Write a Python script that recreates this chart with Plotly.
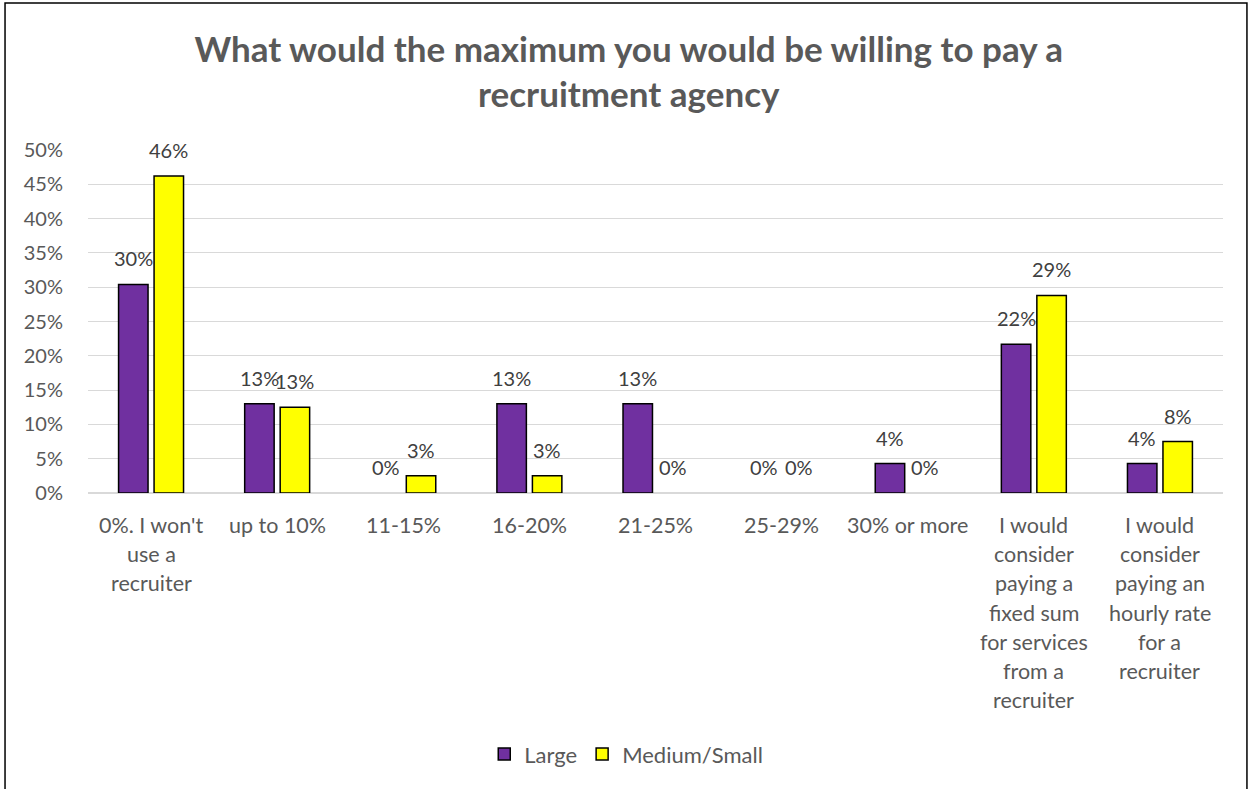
import math
import plotly.graph_objects as go

# Survey answers (x categories) and the share of respondents per company size, in %
categories = [
    "0%. I won't use a recruiter",
    "up to 10%",
    "11-15%",
    "16-20%",
    "21-25%",
    "25-29%",
    "30% or more",
    "I would consider paying a fixed sum for services from a recruiter",
    "I would consider paying an hourly rate for a recruiter",
]
category_lines = [
    ["0%. I won't", "use a", "recruiter"],
    ["up to 10%"],
    ["11-15%"],
    ["16-20%"],
    ["21-25%"],
    ["25-29%"],
    ["30% or more"],
    ["I would", "consider", "paying a", "fixed sum", "for services", "from a", "recruiter"],
    ["I would", "consider", "paying an", "hourly rate", "for a", "recruiter"],
]
large = [30.4, 13.0, 0.0, 13.0, 13.0, 0.0, 4.3, 21.7, 4.3]
medium_small = [46.2, 12.5, 2.5, 2.5, 0.0, 0.0, 0.0, 28.8, 7.5]
y_ticks = [0, 5, 10, 15, 20, 25, 30, 35, 40, 45, 50]
y_tick_labels = [f"{t}%" for t in y_ticks]

FONT = "Lato"
GREY = "#595959"
LABEL = "#404040"
BARGAP = 0.437


def pct(v):
    # round half up, the way the value labels show it
    return f"{int(math.floor(v + 0.5))}%"


fig = go.Figure()
series = [("Large", large, "#7030A0"), ("Medium/Small", medium_small, "#FFFF00")]
for name, vals, color in series:
    fig.add_trace(go.Bar(
        name=name,
        x=categories,
        y=vals,
        marker=dict(
            color=color,
            # empty bars get no outline
            line=dict(color="#000000", width=[1.5 if v > 0 else 0 for v in vals]),
        ),
        hoverinfo="x+y",
    ))

# value labels above each bar, centred on the bar inside its group
half_slot = (1 - BARGAP) / 4
annotations = []
for k, (name, vals, color) in enumerate(series):
    dx = -half_slot if k == 0 else half_slot
    for i, v in enumerate(vals):
        annotations.append(dict(
            x=i + dx, y=v, xref="x", yref="y",
            text=pct(v), showarrow=False,
            yanchor="bottom", yshift=12,
            font=dict(family=FONT, size=20, color=LABEL),
        ))

# wrapped category labels under the axis
for i, lines in enumerate(category_lines):
    for j, line in enumerate(lines):
        annotations.append(dict(
            x=i, y=0, xref="x", yref="paper",
            text=line, showarrow=False,
            yanchor="middle", yshift=-(32 + 29.2 * j),
            font=dict(family=FONT, size=21.5, color=GREY),
        ))

fig.update_layout(
    width=1250,
    height=789,
    margin=dict(l=88, r=27, t=150, b=296),
    paper_bgcolor="white",
    plot_bgcolor="white",
    barmode="group",
    bargap=BARGAP,
    bargroupgap=0.17,
    title=dict(
        text="What would the maximum you would be willing to pay a<br>recruitment agency",
        x=0.503, xanchor="center", xref="container",
        y=0.922, yanchor="middle", yref="container",
        font=dict(family=FONT, size=35, color=GREY, weight="bold"),
    ),
    font=dict(family=FONT, color=GREY),
    xaxis=dict(
        type="category",
        showticklabels=False,
        showgrid=False,
        showline=False,
        zeroline=False,
        ticks="",
    ),
    yaxis=dict(
        range=[0, 50],
        tickmode="array",
        tickvals=y_ticks,
        ticktext=y_tick_labels,
        showgrid=True,
        gridcolor="#D9D9D9",
        gridwidth=1,
        zeroline=True,
        zerolinecolor="#D9D9D9",
        zerolinewidth=1.5,
        showline=False,
        ticks="",
        ticklabelstandoff=24,
        tickfont=dict(family=FONT, size=20, color=GREY),
    ),
    legend=dict(
        orientation="h",
        x=0.501, xanchor="center", xref="container",
        y=0.044, yanchor="middle", yref="container",
        font=dict(family=FONT, size=22, color=GREY),
        itemwidth=30,
        traceorder="normal",
    ),
    annotations=annotations,
    shapes=[dict(
        type="rect", xref="paper", yref="paper",
        x0=-0.0731, x1=1.0211, y0=-0.9, y1=1.4286,
        line=dict(color="#000000", width=1.5),
        fillcolor="rgba(0,0,0,0)", layer="above",
    )],
)

fig.write_html("out.html")
